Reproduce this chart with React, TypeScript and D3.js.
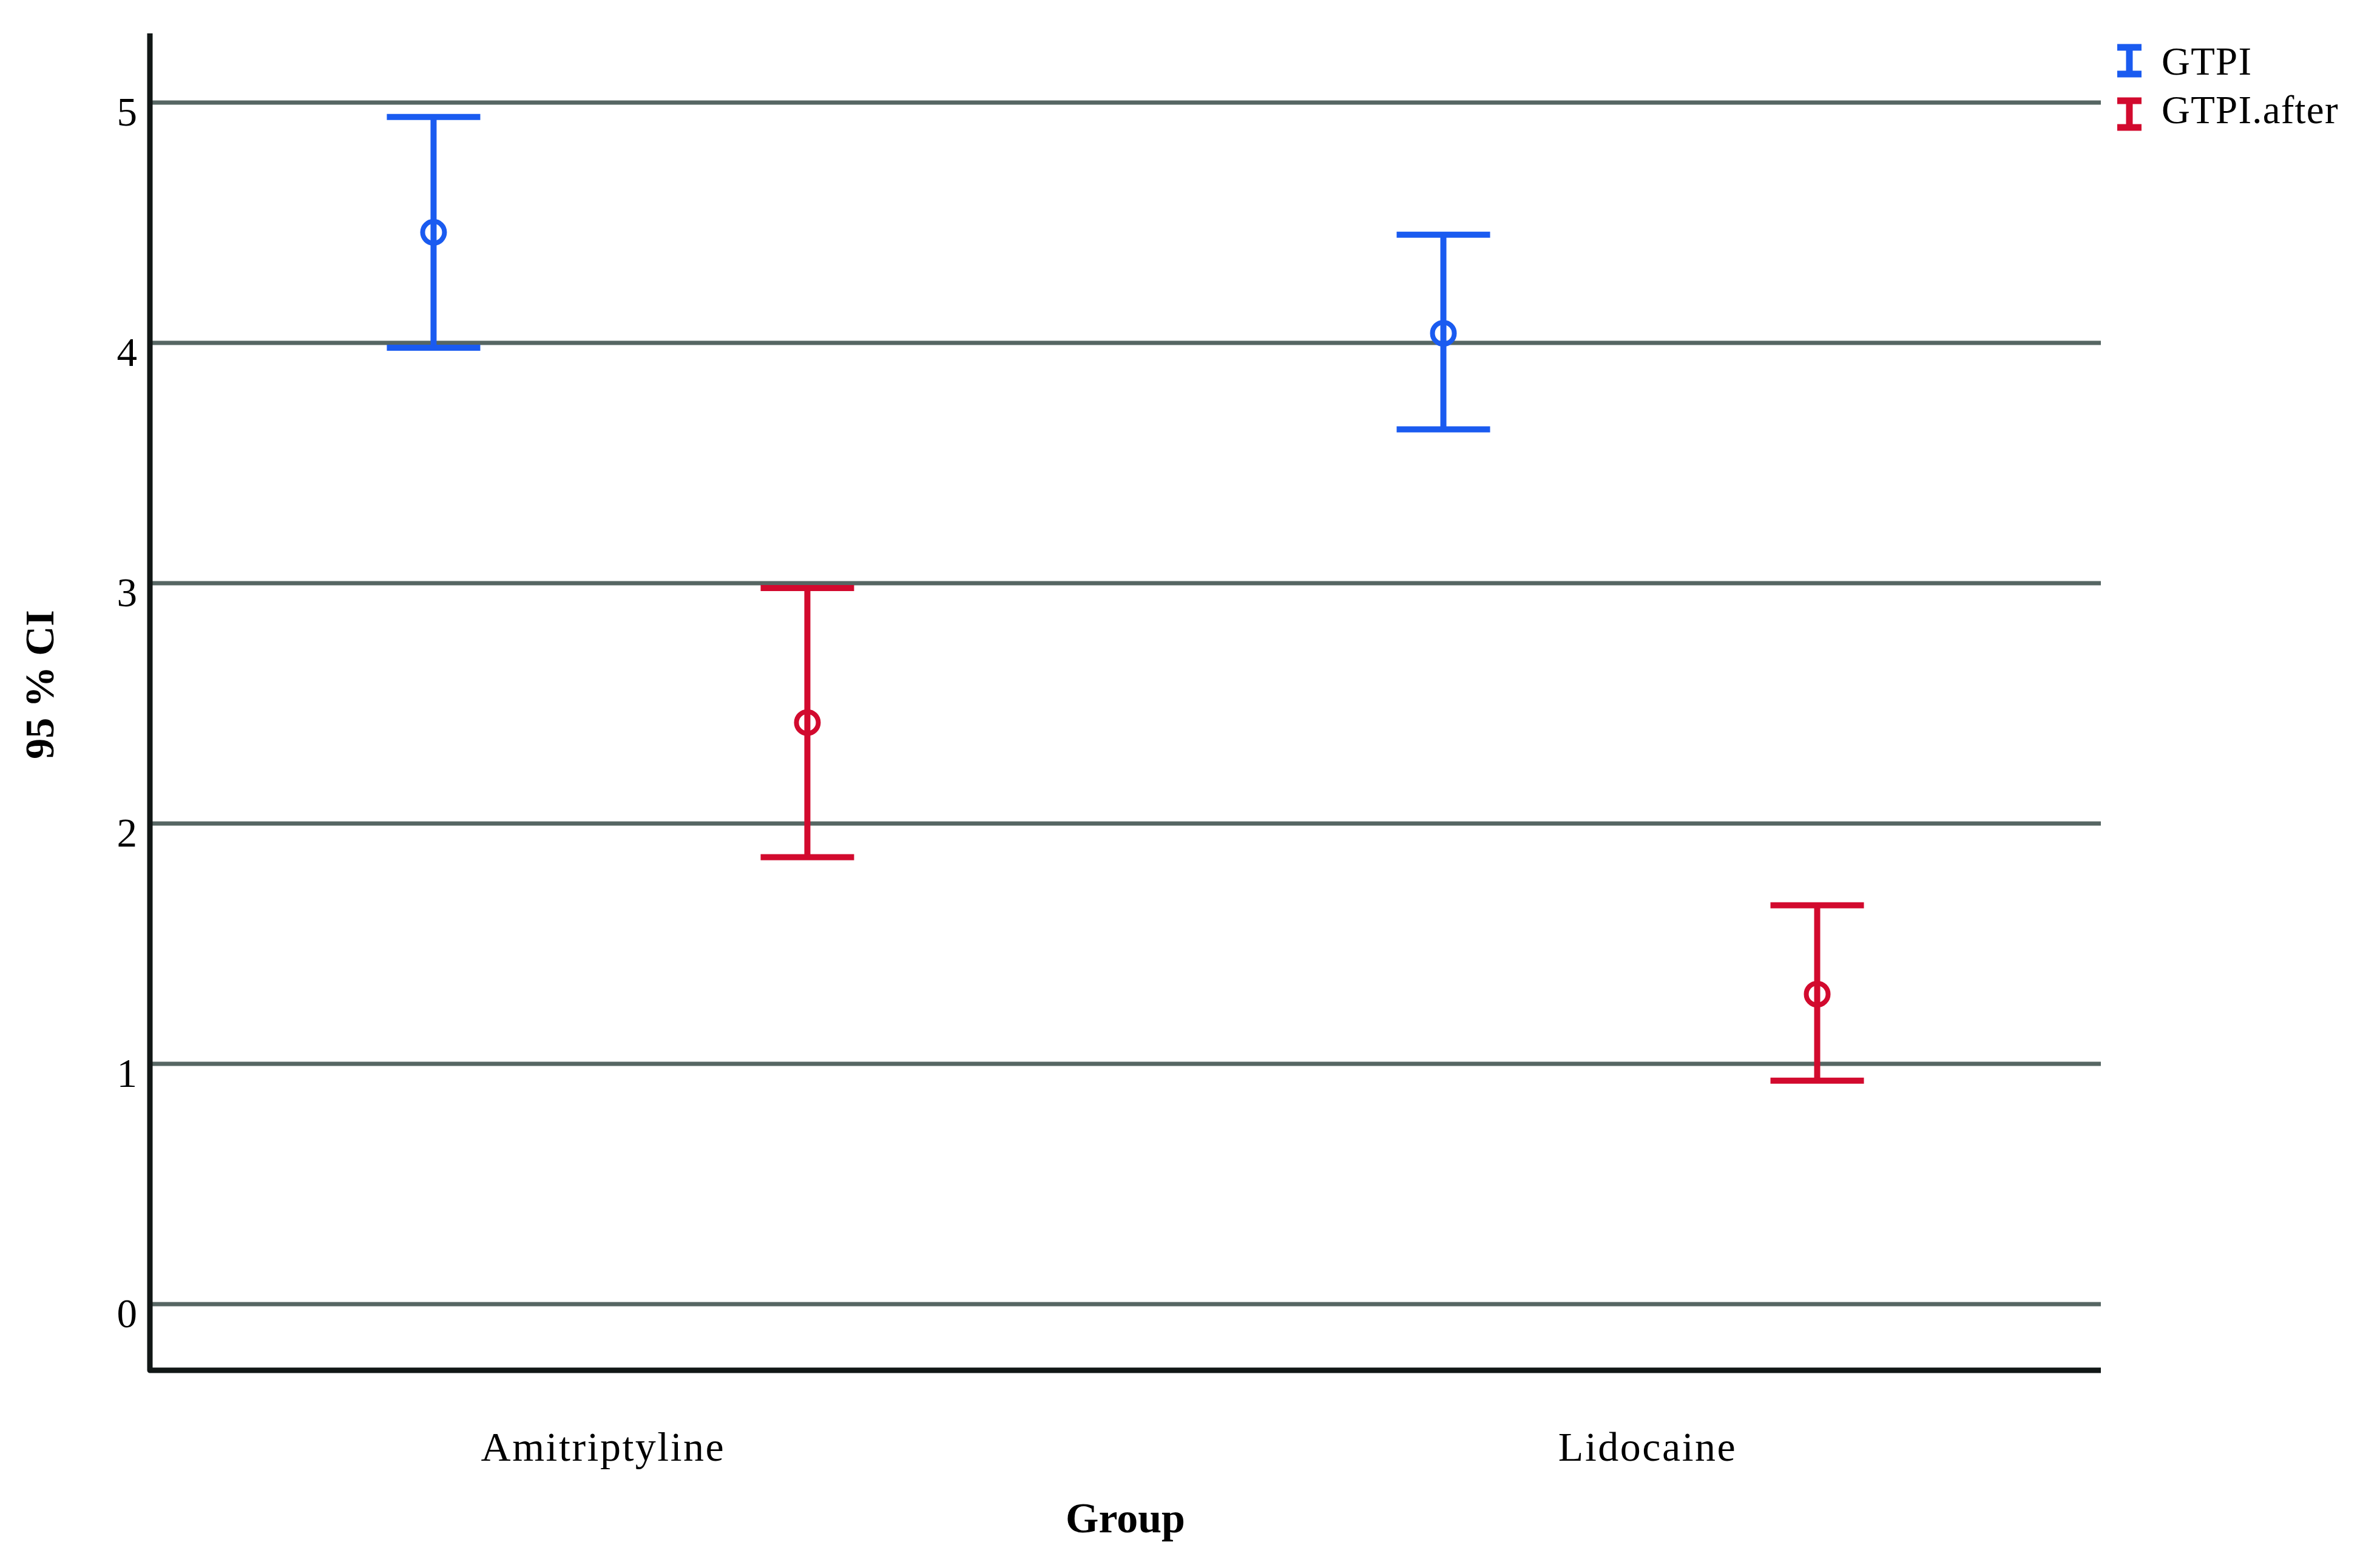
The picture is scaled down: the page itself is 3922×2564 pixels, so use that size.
import React from 'react';
import * as d3 from 'd3';

// Groups on the x axis and the two measured series
const groups = ['Amitriptyline', 'Lidocaine'];
const seriesNames = ['GTPI', 'GTPI.after'];
const seriesColors = ['#1a5bf0', '#d20a2e'];

// Mean and 95% CI bounds per series, one entry per group
const gtpiMean = [4.46, 4.04];
const gtpiLower = [3.98, 3.64];
const gtpiUpper = [4.94, 4.45];
const afterMean = [2.42, 1.29];
const afterLower = [1.86, 0.93];
const afterUpper = [2.98, 1.66];

const yTicks = [0, 1, 2, 3, 4, 5];

const WIDTH = 3922;
const HEIGHT = 2564;
const FONT = '"Liberation Serif", "Times New Roman", serif';

interface ErrorItem {
    group: string;
    series: string;
    mean: number;
    lower: number;
    upper: number;
    color: string;
}

const App: React.FC = () => {
    const left = 247;
    const right = 3462;
    const axisTop = 55;
    const axisBottom = 2258;

    // bar positions and label positions use slightly different paddings
    const x = d3.scalePoint<string>().domain(groups).range([left, right]).padding(0.466);
    const xLabel = d3.scalePoint<string>().domain(groups).range([left, right]).padding(0.434);
    const offset = d3.scalePoint<string>().domain(seriesNames).range([-308, 308]);
    const y = d3.scaleLinear().domain([0, 5]).range([2149, 169]);

    const items: ErrorItem[] = [];
    groups.forEach((g, i) => {
        items.push({ group: g, series: seriesNames[0], mean: gtpiMean[i], lower: gtpiLower[i], upper: gtpiUpper[i], color: seriesColors[0] });
        items.push({ group: g, series: seriesNames[1], mean: afterMean[i], lower: afterLower[i], upper: afterUpper[i], color: seriesColors[1] });
    });

    const capHalf = 77;
    const barStroke = 10;

    return (
        <svg
            width={WIDTH}
            height={HEIGHT}
            style={{ position: 'absolute', left: 0, top: 0, background: '#fff' }}
            fontFamily={FONT}
        >
            {/* horizontal gridlines */}
            {yTicks.map((t) => (
                <line key={`g${t}`} x1={left} x2={right} y1={y(t)} y2={y(t)} stroke="#566663" strokeWidth={7} />
            ))}

            {/* tick labels */}
            {yTicks.map((t) => (
                <text key={`t${t}`} x={226} y={y(t) + 38} textAnchor="end" fontSize={67} fill="#000">
                    {t}
                </text>
            ))}

            {/* axes */}
            <path
                d={`M${left},${axisTop} L${left},${axisBottom} L${right},${axisBottom}`}
                fill="none"
                stroke="#111716"
                strokeWidth={9}
                strokeLinejoin="round"
            />

            {/* error bars */}
            {items.map((d) => {
                const cx = (x(d.group) as number) + (offset(d.series) as number);
                return (
                    <g key={`${d.group}-${d.series}`} stroke={d.color} strokeWidth={barStroke} fill="none">
                        <line x1={cx} x2={cx} y1={y(d.upper)} y2={y(d.lower)} />
                        <line x1={cx - capHalf} x2={cx + capHalf} y1={y(d.upper)} y2={y(d.upper)} />
                        <line x1={cx - capHalf} x2={cx + capHalf} y1={y(d.lower)} y2={y(d.lower)} />
                        <circle cx={cx} cy={y(d.mean)} r={18} strokeWidth={8} />
                    </g>
                );
            })}

            {/* group labels */}
            {groups.map((g) => (
                <text key={g} x={xLabel(g)} y={2407} textAnchor="middle" fontSize={68} letterSpacing={2.5} fill="#000">
                    {g}
                </text>
            ))}

            {/* axis titles */}
            <text x={(left + right) / 2} y={2525} textAnchor="middle" fontSize={70} fontWeight="bold" fill="#000">
                Group
            </text>
            <text
                transform="translate(88,1128) rotate(-90)"
                textAnchor="middle"
                fontSize={68}
                fontWeight="bold"
                fill="#000"
            >
                95 % CI
            </text>

            {/* legend */}
            {seriesNames.map((s, i) => {
                const cy = 100 + i * 88;
                const lx = 3509;
                return (
                    <g key={s}>
                        <g stroke={seriesColors[i]} strokeWidth={11}>
                            <line x1={lx} x2={lx} y1={cy - 26} y2={cy + 26} />
                            <line x1={lx - 20} x2={lx + 20} y1={cy - 22} y2={cy - 22} />
                            <line x1={lx - 20} x2={lx + 20} y1={cy + 22} y2={cy + 22} />
                        </g>
                        <text x={3562} y={123 + i * 80} fontSize={65} letterSpacing={1.2} fill="#000">
                            {s}
                        </text>
                    </g>
                );
            })}
        </svg>
    );
};

export default App;
